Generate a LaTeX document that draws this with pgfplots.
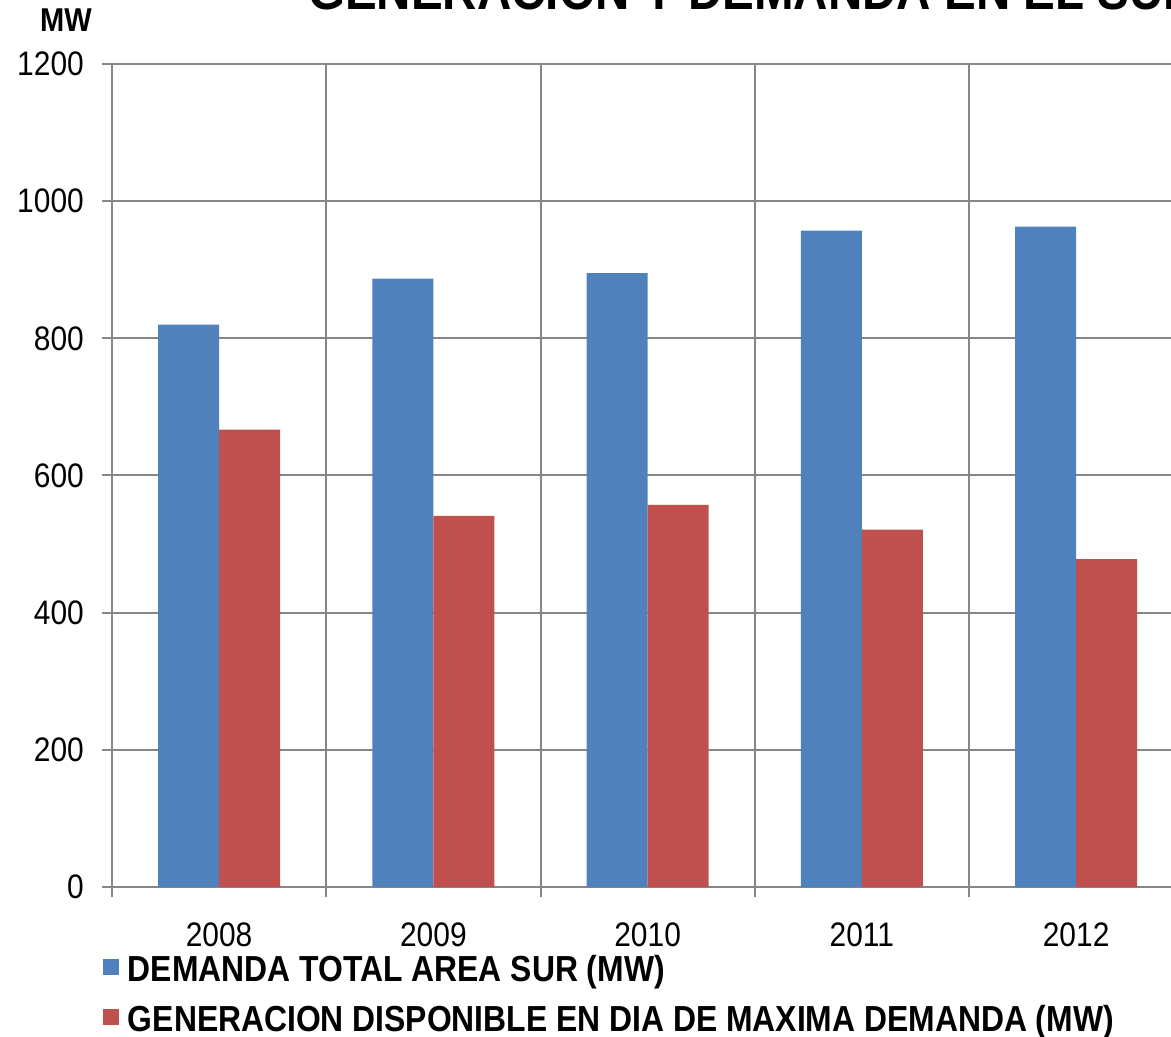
\documentclass[border=0pt]{standalone}
\usepackage{fontspec}
\setmainfont{Liberation Sans}[FakeStretch=0.88]
\usepackage{pgfplots}
\pgfplotsset{compat=1.18}
\definecolor{cblue}{RGB}{79,129,189}
\definecolor{cred}{RGB}{192,80,77}
\definecolor{cgrid}{RGB}{134,134,134}
\pgfplotsset{legsq/.style={legend image code/.code={\fill[##1] (0pt,-3pt) rectangle (16pt,13pt);}}}
\begin{document}
\begin{tikzpicture}[x=1pt,y=1pt]
\begin{axis}[
  at={(112pt,150pt)}, anchor=south west,
  scale only axis, width=1071.25pt, height=823pt,
  ymin=0, ymax=1200, xmin=-0.5, xmax=4.5,
  ybar=0pt, bar width=61pt,
  axis line style={cgrid, line width=2pt},
  tick align=outside, tick pos=left, major tick length=10pt,
  tick style={cgrid, line width=2pt},
  grid style={cgrid, line width=2pt},
  ymajorgrids, xmajorgrids,
  ytick={0,200,...,1200},
  xtick={-0.5,0.5,1.5,2.5,3.5,4.5}, xticklabels={,,,,,},
  extra x ticks={0,1,2,3,4},
  extra x tick labels={2008,2009,2010,2011,2012},
  extra x tick style={grid=none, major tick length=0pt,
    tick label style={anchor=north, inner sep=0pt, yshift=-36pt}},
  /pgf/number format/assume math mode=true,
  /pgf/number format/1000 sep={},
  tick label style={font=\fontsize{34}{40}\selectfont},
  yticklabel style={anchor=east, inner sep=0pt, xshift=-18pt},
  legend style={at={(axis description cs:0,0)}, anchor=north west,
    xshift=-9pt, yshift=-68pt, draw=none, fill=none, inner sep=0pt, outer sep=0pt,
    column sep=9pt, row sep=16pt,
    font=\fontsize{36.2}{42}\selectfont\bfseries,
    nodes={inner sep=0pt, text height=26pt, text depth=8pt},
    cells={anchor=west}},
  legend cell align=left,
]
\addplot[fill=cblue, draw=none, legsq] coordinates {(0,820) (1,887) (2,895) (3,957) (4,963)};
\addlegendentry{DEMANDA TOTAL AREA SUR (MW)}
\addplot[fill=cred, draw=none, legsq] coordinates {(0,667) (1,541) (2,557) (3,521) (4,478)};
\addlegendentry{GENERACION DISPONIBLE EN DIA DE MAXIMA DEMANDA (MW)}
\end{axis}
\node[anchor=base west, font=\fontsize{54}{60}\selectfont\bfseries, inner sep=0pt] at (308pt,1027pt) {GENERACION Y DEMANDA EN EL SUR};
\node[anchor=base west, font=\fontsize{33}{40}\selectfont\bfseries, inner sep=0pt] at (40pt,1005pt) {MW};
\pgfresetboundingbox
\useasboundingbox (0pt,0pt) rectangle (1171pt,1037pt);
\end{tikzpicture}
\end{document}
